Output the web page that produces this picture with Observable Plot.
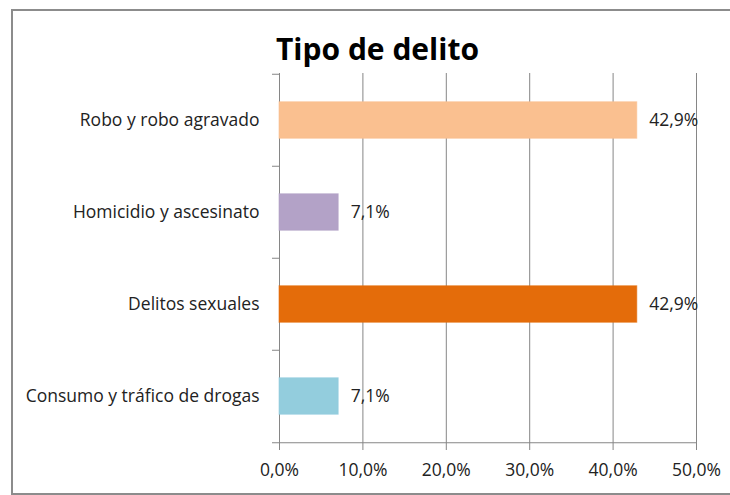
<!DOCTYPE html>
<html>
<head>
<meta charset="utf-8">
<script src="https://cdn.jsdelivr.net/npm/d3@7"></script>
<script src="https://cdn.jsdelivr.net/npm/@observablehq/plot@0.6"></script>
<style>
  html, body { margin: 0; padding: 0; background: #fff; }
  #wrap { position: relative; width: 730px; height: 495px; overflow: hidden; }
  #frame { position: absolute; left: 11px; top: 9px; width: 740px; height: 482px; border: 2px solid #8c8c8c; box-sizing: content-box; }
  #title { position: absolute; left: 0; width: 755px; top: 29px; text-align: center; font-family: "Open Sans", sans-serif; font-weight: bold; font-size: 30px; color: #000; line-height: 40px; }
  #chart { position: absolute; left: 0; top: 0; }
</style>
</head>
<body>
<div id="wrap">
  <div id="frame"></div>
  <div id="title">Tipo de delito</div>
  <div id="chart"></div>
</div>
<script>
const categories = ["Robo y robo agravado", "Homicidio y ascesinato", "Delitos sexuales", "Consumo y tráfico de drogas"];
const values = [42.9, 7.1, 42.9, 7.1];
const colors = ["#FAC090", "#B3A2C7", "#E46C0A", "#93CDDD"];
const xTicks = [0, 10, 20, 30, 40, 50];

const data = categories.map((c, i) => ({cat: c, value: values[i], color: colors[i]}));
const fmt = v => v.toFixed(1).replace(".", ",") + "%";

const W = 730, H = 495;
const mL = 279, mR = 34, mT = 73, mB = 52;
const step = (H - mT - mB) / categories.length;
const barH = step * 0.4;
const inset = (step - barH) / 2;
const tickUnits = 7 * 50 / (W - mL - mR);
const gray = "#868686";
const fs = 17.5;

const plot = Plot.plot({
  width: W, height: H,
  marginLeft: mL, marginRight: mR, marginTop: mT, marginBottom: mB,
  style: {fontFamily: "Open Sans, sans-serif", fontSize: fs + "px", color: "#222", background: "transparent"},
  x: {domain: [0, 50], ticks: xTicks, tickFormat: fmt, label: null},
  y: {domain: categories, padding: 0, label: null},
  marks: [
    Plot.ruleX(xTicks, {stroke: gray, strokeWidth: 1}),
    Plot.barX(data, {x: "value", y: "cat", fill: "color", insetTop: inset, insetBottom: inset, stroke: d => d.color, strokeOpacity: 0.6}),
    Plot.ruleY(categories, {y: d => d, dy: -step / 2, x1: -tickUnits, x2: 0, stroke: gray}),
    Plot.ruleY([categories[categories.length - 1]], {y: d => d, dy: step / 2, x1: -tickUnits, x2: 50, stroke: gray}),
    Plot.axisY({tickSize: 0, tickPadding: 20, fontSize: fs, fill: "#222"}),
    Plot.axisX({ticks: xTicks, tickFormat: fmt, tickSize: 7, stroke: gray, tickPadding: 13, fontSize: fs, fill: "#222"}),
    Plot.text(data, {x: "value", y: "cat", text: d => fmt(d.value), dx: 12, textAnchor: "start", fontSize: fs, fill: "#222"})
  ]
});
document.getElementById("chart").appendChild(plot);
</script>
</body>
</html>
